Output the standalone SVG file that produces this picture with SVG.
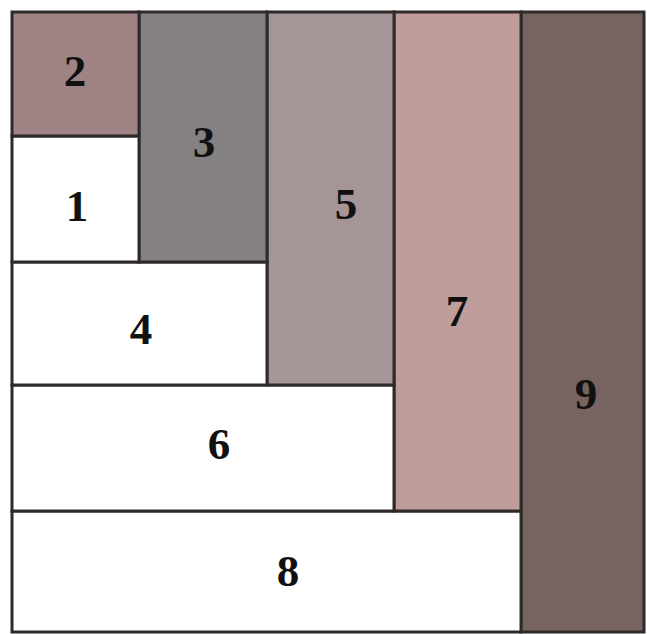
<svg xmlns="http://www.w3.org/2000/svg" width="647" height="634" viewBox="0 0 647 634">
<style>
rect.c{stroke:#2e2a2a;stroke-width:3}
text{font-family:"Liberation Serif","Times New Roman",serif;font-weight:bold;font-size:45px;fill:#111;text-anchor:middle}
</style>
<rect width="647" height="634" fill="#ffffff"/>
<g id="n9"><rect class="c" x="521" y="12" width="123" height="620" fill="#776461"/><text x="586" y="409">9</text></g>
<g id="n8"><rect class="c" x="12" y="511" width="509" height="121" fill="#ffffff"/><text x="288" y="586">8</text></g>
<g id="n7"><rect class="c" x="394" y="12" width="127" height="499" fill="#bf9d9b"/><text x="457" y="326">7</text></g>
<g id="n6"><rect class="c" x="12" y="385" width="382" height="126" fill="#ffffff"/><text x="219" y="459">6</text></g>
<g id="n5"><rect class="c" x="267" y="12" width="127" height="373" fill="#a59596"/><text x="346" y="219">5</text></g>
<g id="n4"><rect class="c" x="12" y="262" width="255" height="123" fill="#ffffff"/><text x="141" y="344">4</text></g>
<g id="n3"><rect class="c" x="139" y="12" width="128" height="250" fill="#858182"/><text x="204" y="157">3</text></g>
<g id="n1"><rect class="c" x="12" y="136" width="127" height="126" fill="#ffffff"/><text x="77" y="221">1</text></g>
<g id="n2"><rect class="c" x="12" y="12" width="127" height="124" fill="#a08384"/><text x="75" y="86">2</text></g>
<g id="connectors"></g>
</svg>
